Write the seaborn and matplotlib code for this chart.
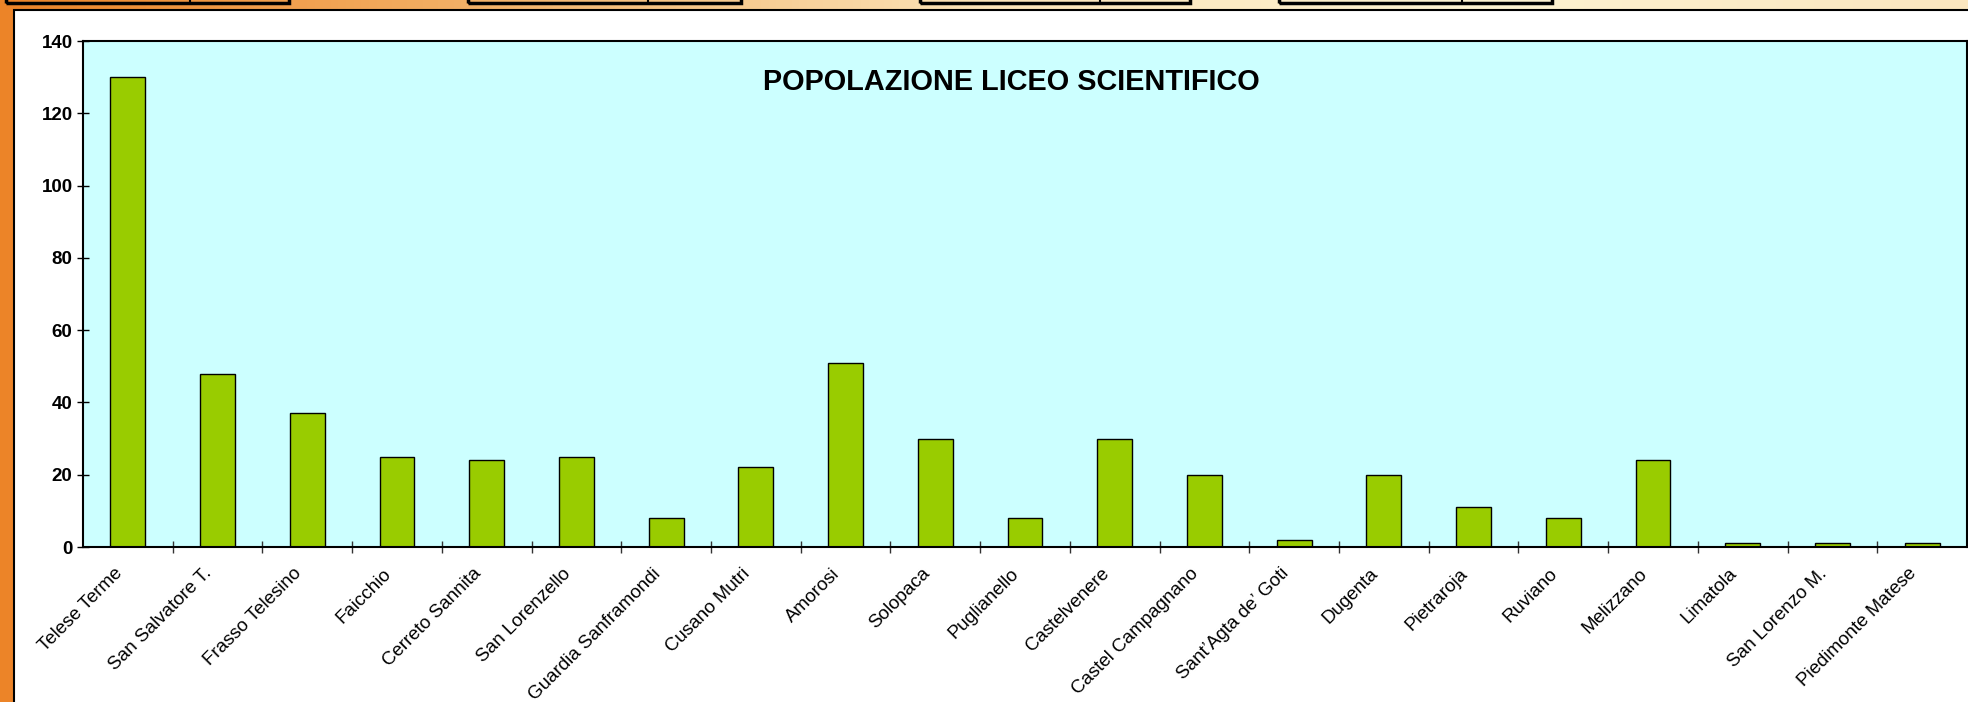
import numpy as np
import pandas as pd
import matplotlib
matplotlib.use('Agg')
import matplotlib.pyplot as plt
from matplotlib.patches import Rectangle
import seaborn as sns

comuni = [
    "Telese Terme", "San Salvatore T.", "Frasso Telesino", "Faicchio",
    "Cerreto Sannita", "San Lorenzello", "Guardia Sanframondi", "Cusano Mutri",
    "Amorosi", "Solopaca", "Puglianello", "Castelvenere", "Castel Campagnano",
    "Sant\u2019Agta de\u2019 Goti", "Dugenta", "Pietraroja", "Ruviano",
    "Melizzano", "Limatola", "San Lorenzo M.", "Piedimonte Matese",
]
studenti = [130, 48, 37, 25, 24, 25, 8, 22, 51, 30, 8, 30, 20, 2, 20, 11, 8, 24, 1, 1, 1]
yticks = [0, 20, 40, 60, 80, 100, 120, 140]
titolo = "POPOLAZIONE LICEO SCIENTIFICO"

sns.set_style("white")
plt.rcParams['font.family'] = ['Liberation Sans', 'DejaVu Sans']

W, H = 1968, 702
fig = plt.figure(figsize=(W / 100, H / 100), dpi=100)

# sfondo della slide (gradiente arancio -> crema)
bg = fig.add_axes([0, 0, 1, 1], zorder=-10)
grad = np.linspace(0, 1, 256)[None, :]
cmap = matplotlib.colors.LinearSegmentedColormap.from_list(
    "slide", ["#ec8428", "#f3b36a", "#fbe3b8", "#fdf3d2", "#fbe6bf"])
bg.imshow(grad, aspect='auto', cmap=cmap, extent=[0, 1, 0, 1])
bg.set_axis_off()

# riquadri delle tabelle in alto (tagliati)
for x0, xd, x1 in [(6, 190, 289), (468, 648, 741), (920, 1100, 1190), (1279, 1462, 1552)]:
    fig.patches.append(Rectangle((x0 / W, (H - 3) / H), (x1 - x0) / W, 10 / H,
                                 transform=fig.transFigure, facecolor='none',
                                 edgecolor='black', lw=2.5, zorder=-5))
    fig.lines.append(matplotlib.lines.Line2D([xd / W, xd / W], [(H - 3) / H, 1],
                                             transform=fig.transFigure, color='black', lw=1.5))

# area del grafico bianca
fig.patches.append(Rectangle((14 / W, -0.1), 1.1, (H - 10) / H + 0.1,
                             transform=fig.transFigure, facecolor='white',
                             edgecolor='black', lw=1.5, zorder=-4))

ax = fig.add_axes([83 / W, (H - 547) / H, (1967 - 83) / W, (547 - 41) / H])
ax.set_facecolor('#ccffff')
df = pd.DataFrame({"comune": comuni, "studenti": studenti})
sns.barplot(data=df, x="comune", y="studenti", color="#99cc00", edgecolor="black",
            linewidth=1.0, width=0.39, saturation=1, ax=ax)

ax.set_xlim(-0.5, len(comuni) - 0.5)
ax.set_ylim(0, 140)
ax.set_yticks(yticks)
ax.set_yticklabels([str(v) for v in yticks], fontsize=13.5, fontweight='bold', color='black')
ax.tick_params(axis='y', direction='inout', length=9, width=1, pad=3, left=True, color='black')

# etichette leggermente a sinistra del centro della barra (tick invisibili)
ax.set_xticks(np.arange(len(comuni)) - 0.16)
ax.set_xticklabels(comuni, rotation=45, ha='right', rotation_mode='anchor',
                   fontsize=13.5, color='black')
ax.set_xticks(np.arange(len(comuni) - 1) + 0.5, minor=True)
ax.tick_params(axis='x', which='major', length=0, pad=13)
ax.tick_params(axis='x', which='minor', direction='inout', length=9, width=1, color='#333333', bottom=True)

ax.set_xlabel("")
ax.set_ylabel("")
for s in ax.spines.values():
    s.set_visible(True)
    s.set_color('black')
    s.set_linewidth(1.5)

ax.text(0.493, 0.918, titolo, transform=ax.transAxes, ha='center', va='center',
        fontsize=20.8, fontweight='bold', color='black')

fig.savefig("out.png", dpi=100)
